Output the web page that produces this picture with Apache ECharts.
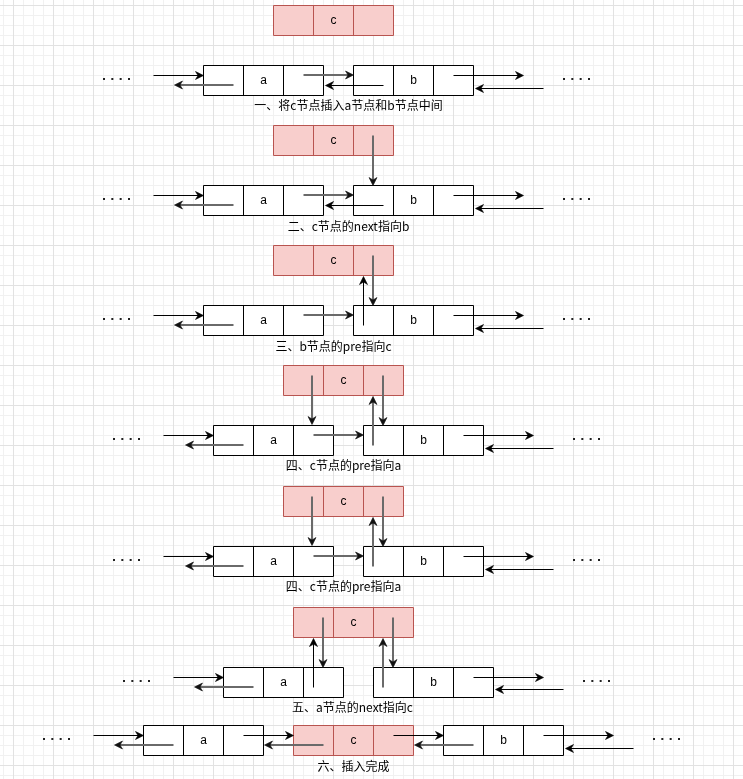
<!DOCTYPE html>
<html>
<head>
<meta charset="utf-8">
<script src="https://cdn.jsdelivr.net/npm/echarts@6/dist/echarts.min.js"></script>
<style>
html,body{margin:0;padding:0;background:#fff;}
#c{width:743px;height:779px;}
</style>
</head>
<body>
<div id="c"></div>
<script>
// ---- data (diagram coordinates, in the chart's value axes) ----
// list nodes: [label, left, top]
const listNodes = [
  ['a',203,65],['b',353,65],
  ['a',203,185],['b',353,185],
  ['a',203,305],['b',353,305],
  ['a',213,425],['b',363,425],
  ['a',213,546],['b',363,546],
  ['a',223,667],['b',373,667],
  ['a',143,725],['b',443,725]
];
// inserted node c: [label, left, top]
const insertNodes = [
  ['c',273,5],['c',273,125],['c',273,245],
  ['c',283,365],['c',283,486],['c',293,607],['c',293,725]
];
// crisp pointer arrows: [x1, y1, x2(tip), y2(tip)]
const arrowsSharp = [
  [153,75,203,75],[383,85,325,85],[453,75,523,75],[543,88,475,88],
  [153,195,203,195],[383,205,325,205],[453,195,523,195],[543,208,475,208],
  [153,315,203,315],[363,325,363,276],[453,315,523,315],[543,328,475,328],
  [163,435,213,435],[463,435,533,435],[553,448,485,448],
  [163,556,213,556],[463,556,533,556],[553,569,485,569],
  [173,677,223,677],[313,687,313,638],[473,677,543,677],[563,689,495,689],
  [93,735,143,735],[243,735,293,735],[393,735,443,735],[543,735,613,735],[633,748,565,748]
];
// soft (anti-aliased) pointer arrows: [x1, y1, x2(tip), y2(tip)]
const arrowsSoft = [
  [233,85,174,85],[303,75,353,75],
  [233,205,174,205],[303,195,353,195],[373,135,373,185],
  [233,325,174,325],[303,315,353,315],[373,255,373,305],
  [243,445,185,445],[313,435,363,435],[312,375,312,424],[383,375,383,425],[373,445,373,396],
  [243,566,185,566],[313,556,363,556],[312,496,312,545],[383,496,383,546],[373,566,373,517],
  [253,687,194,687],[323,617,323,667],[383,687,383,638],[393,617,393,667],
  [173,745,114,745],[323,745,264,745],[473,745,414,745]
];
// "····" ellipsis groups: [left, centreY]
const dotGroups = [
  [103,79],[563,79],[103,199],[563,199],[103,319],[563,319],
  [113,439],[573,439],[113,560],[573,560],[123,681],[583,681],
  [43,739],[653,739]
];
// step captions: [text, centreX, centreY]
const captions = [
  ['一、将c节点插入a节点和b节点中间',348,105],
  ['二、c节点的next指向b',348,226],
  ['三、b节点的pre指向c',333,346],
  ['四、c节点的pre指向a',343,465],
  ['四、c节点的pre指向a',343,586],
  ['五、a节点的next指向c',352,707],
  ['六、插入完成',353,766]
];

const W = 743, H = 779;
const chart = echarts.init(document.getElementById('c'), null, {renderer: 'canvas'});

function renderGrid(params, api) {
  const children = [];
  const minor = '#f1f1f1', major = '#e2e2e2';
  for (let pass = 0; pass < 2; pass++) {
    for (let x = 3; x < W; x += 10) {
      const isMajor = (x - 13) % 40 === 0;
      if ((pass === 1) !== isMajor) continue;
      children.push({type:'line', shape:{x1:x+0.5,y1:0,x2:x+0.5,y2:H}, style:{stroke:isMajor?major:minor,lineWidth:1}});
    }
    for (let y = 5; y < H; y += 10) {
      const isMajor = (y - 5) % 40 === 0;
      if ((pass === 1) !== isMajor) continue;
      children.push({type:'line', shape:{x1:0,y1:y+0.5,x2:W,y2:y+0.5}, style:{stroke:isMajor?major:minor,lineWidth:1}});
    }
  }
  return {type:'group', children, silent:true};
}

function nodeRenderer(src, fill, stroke) {
  return function (params, api) {
    const x = api.value(1), y = api.value(2);
    const p0 = api.coord([x, y]);
    const p1 = api.coord([x + 120, y + 30]);
    const w = p1[0] - p0[0], h = p1[1] - p0[1], cw = w / 3;
    const children = [
      {type:'rect', shape:{x:p0[0],y:p0[1],width:w,height:h}, style:{fill:fill,stroke:stroke,lineWidth:1}}
    ];
    for (let i = 1; i < 3; i++) {
      children.push({type:'line', shape:{x1:p0[0]+cw*i,y1:p0[1],x2:p0[0]+cw*i,y2:p1[1]}, style:{stroke:stroke,lineWidth:1}});
    }
    children.push({type:'text', style:{
      text: src[params.dataIndex][0], x: p0[0] + cw * 1.5, y: p0[1] + h / 2,
      align:'center', verticalAlign:'middle', fill:'#000',
      font:'12px "Liberation Sans", Arial, sans-serif'
    }});
    return {type:'group', children};
  };
}

function arrowRenderer(stroke, lw, head, shift) {
  return function (params, api) {
    const a = api.coord([api.value(0), api.value(1)]);
    const b = api.coord([api.value(2), api.value(3)]);
    const dx = b[0] - a[0], dy = b[1] - a[1];
    const L = Math.hypot(dx, dy) || 1;
    const ux = dx / L, uy = dy / L, px = -uy, py = ux;
    const sx = Math.abs(px) * shift, sy = Math.abs(py) * shift;
    const len = 8, hw = 4, notch = 5.5;
    const tip = [b[0] + sx, b[1] + sy];
    const tail = [tip[0] - ux * notch, tip[1] - uy * notch];
    return {type:'group', children:[
      {type:'line', shape:{x1:a[0]+sx,y1:a[1]+sy,x2:tail[0],y2:tail[1]}, style:{stroke:stroke,lineWidth:lw}},
      {type:'polygon', shape:{points:[
        tip,
        [tip[0]-ux*len+px*hw, tip[1]-uy*len+py*hw],
        tail,
        [tip[0]-ux*len-px*hw, tip[1]-uy*len-py*hw]
      ]}, style:{fill:head,stroke:head,lineWidth:0.6}}
    ]};
  };
}

function renderDots(params, api) {
  const x = api.value(0), y = api.value(1);
  const children = [];
  for (let i = 0; i < 4; i++) {
    const p = api.coord([x + i * 8.33, y]);
    children.push({type:'rect', shape:{x:p[0]-0.5,y:p[1]-1.5,width:2,height:2}, style:{fill:'#222'}});
  }
  return {type:'group', children};
}

function renderCaption(params, api) {
  const p = api.coord([api.value(1), api.value(2)]);
  return {type:'text', style:{
    text: captions[params.dataIndex][0], x: p[0], y: p[1],
    align:'center', verticalAlign:'middle', fill:'#000',
    font:'12px "Noto Sans CJK SC", sans-serif'
  }};
}

chart.setOption({
  animation: false,
  backgroundColor: '#ffffff',
  grid: {left: 0, right: 0, top: 0, bottom: 0},
  xAxis: {type:'value', min:-0.5, max:W-0.5, show:false},
  yAxis: {type:'value', min:-0.5, max:H-0.5, inverse:true, show:false},
  series: [
    {type:'custom', name:'grid', renderItem: renderGrid, data:[[0,0]], silent:true, z:1},
    {type:'custom', name:'list', renderItem: nodeRenderer(listNodes,'#ffffff','#000000'),
     dimensions:[{name:'label',type:'ordinal'},'x','y'], encode:{x:1,y:2}, data: listNodes, z:3},
    {type:'custom', name:'insert', renderItem: nodeRenderer(insertNodes,'#f8cecc','#b85450'),
     dimensions:[{name:'label',type:'ordinal'},'x','y'], encode:{x:1,y:2}, data: insertNodes, z:3},
    {type:'custom', name:'sharp', renderItem: arrowRenderer('#000000',1,'#000000',0),
     encode:{x:[0,2],y:[1,3]}, data: arrowsSharp, z:5},
    {type:'custom', name:'soft', renderItem: arrowRenderer('#6a6a6a',2,'#111111',-0.5),
     encode:{x:[0,2],y:[1,3]}, data: arrowsSoft, z:5},
    {type:'custom', name:'dots', renderItem: renderDots, encode:{x:0,y:1}, data: dotGroups, z:4},
    {type:'custom', name:'captions', renderItem: renderCaption,
     dimensions:[{name:'text',type:'ordinal'},'x','y'], encode:{x:1,y:2}, data: captions, z:4}
  ]
});
</script>
</body>
</html>
